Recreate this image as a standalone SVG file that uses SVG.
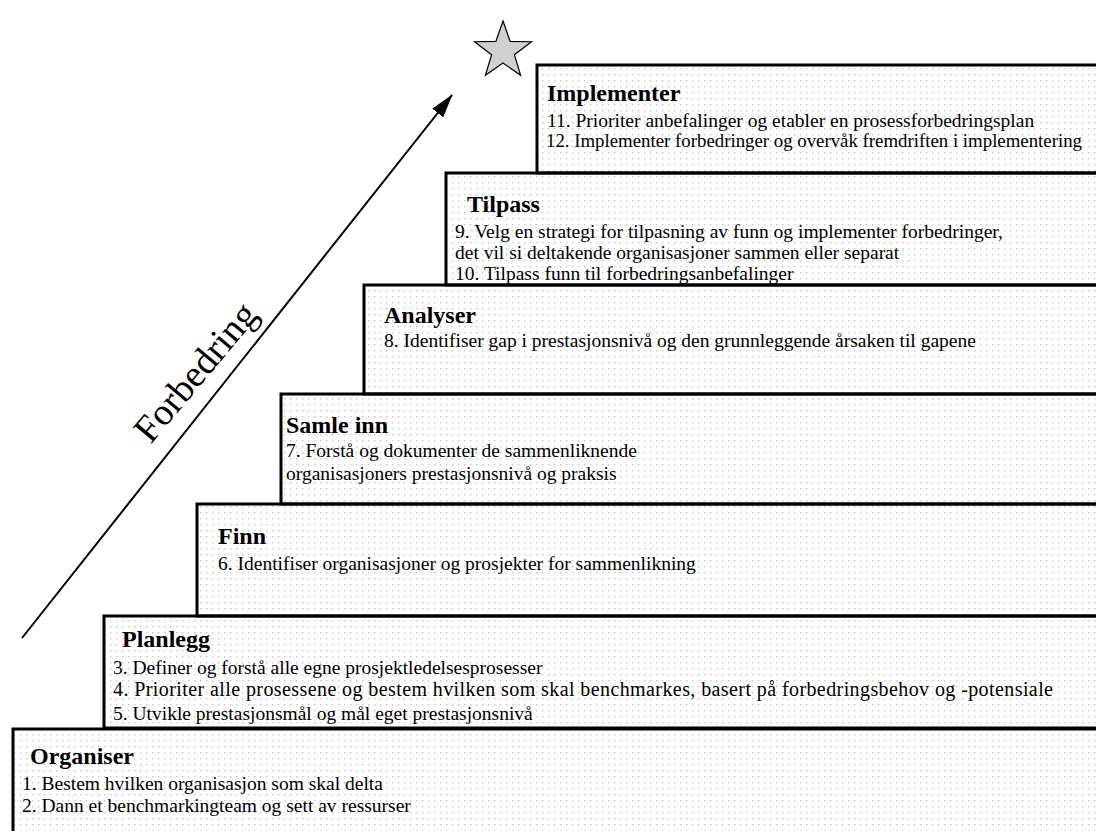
<svg xmlns="http://www.w3.org/2000/svg" width="1096" height="831" viewBox="0 0 1096 831">
  <defs>
    <pattern id="dots" width="6" height="6" patternUnits="userSpaceOnUse">
      <rect x="2" y="2" width="1.4" height="1.4" fill="#c8c8c8"/>
    </pattern>
    <marker id="head" viewBox="0 0 24 14" refX="23" refY="7" markerWidth="24" markerHeight="14" orient="auto" markerUnits="userSpaceOnUse">
      <path d="M0,0 L24,7 L0,14 Z" fill="#000"/>
    </marker>
  </defs>
  <style>
    .step { fill: url(#dots); stroke: #000; stroke-width: 3; }
    .title { font-family: "Liberation Serif", "Times New Roman", serif; font-weight: bold; font-size: 24px; fill: #000; }
    .item { font-family: "Liberation Serif", "Times New Roman", serif; font-size: 19.5px; fill: #000; }
    .wide { font-size: 20px; }
    .tight { font-size: 19px; }
    .label { font-family: "Liberation Serif", "Times New Roman", serif; font-size: 38px; fill: #000; }
  </style>
  <rect width="1096" height="831" fill="#fff"/>

  <!-- stair steps, top to bottom -->
  <g id="step-implementer">
    <rect class="step" x="537" y="65" width="600" height="108"/>
    <text class="title" x="547" y="101">Implementer</text>
    <text class="item" x="547" y="127">11. Prioriter anbefalinger og etabler en prosessforbedringsplan</text>
    <text class="item tight" x="546" y="147" textLength="536" lengthAdjust="spacingAndGlyphs">12. Implementer forbedringer og overvåk fremdriften i implementering</text>
  </g>
  <g id="step-tilpass">
    <rect class="step" x="446" y="173" width="700" height="112"/>
    <text class="title" x="467" y="212">Tilpass</text>
    <text class="item" x="455" y="238">9. Velg en strategi for tilpasning av funn og implementer forbedringer,</text>
    <text class="item" x="455" y="259">det vil si deltakende organisasjoner sammen eller separat</text>
    <text class="item" x="455" y="280">10. Tilpass funn til forbedringsanbefalinger</text>
  </g>
  <g id="step-analyser">
    <rect class="step" x="364" y="285" width="800" height="109"/>
    <text class="title" x="384" y="323">Analyser</text>
    <text class="item" x="384" y="347">8. Identifiser gap i prestasjonsnivå og den grunnleggende årsaken til gapene</text>
  </g>
  <g id="step-samle-inn">
    <rect class="step" x="281" y="394" width="900" height="110"/>
    <text class="title" x="286" y="433">Samle inn</text>
    <text class="item" x="286" y="457">7. Forstå og dokumenter de sammenliknende</text>
    <text class="item" x="286" y="480">organisasjoners prestasjonsnivå og praksis</text>
  </g>
  <g id="step-finn">
    <rect class="step" x="197" y="504" width="1000" height="112"/>
    <text class="title" x="218" y="544">Finn</text>
    <text class="item" x="218" y="570">6. Identifiser organisasjoner og prosjekter for sammenlikning</text>
  </g>
  <g id="step-planlegg">
    <rect class="step" x="104" y="616" width="1100" height="112"/>
    <text class="title" x="122" y="647">Planlegg</text>
    <text class="item" x="113" y="674">3. Definer og forstå alle egne prosjektledelsesprosesser</text>
    <text class="item wide" x="113" y="696" textLength="940">4. Prioriter alle prosessene og bestem hvilken som skal benchmarkes, basert på forbedringsbehov og -potensiale</text>
    <text class="item" x="113" y="720">5. Utvikle prestasjonsmål og mål eget prestasjonsnivå</text>
  </g>
  <g id="step-organiser">
    <rect class="step" x="13" y="729" width="1200" height="140"/>
    <text class="title" x="30" y="764">Organiser</text>
    <text class="item" x="22" y="790">1. Bestem hvilken organisasjon som skal delta</text>
    <text class="item" x="22" y="812">2. Dann et benchmarkingteam og sett av ressurser</text>
  </g>

  <!-- goal star -->
  <g id="goal-star">
    <polygon points="503,21 510.1,41.3 531.5,41.7 514.4,54.7 520.6,75.3 503,63 485.4,75.3 491.6,54.7 474.5,41.7 495.9,41.3" fill="#d0d0d0" stroke="#000" stroke-width="1.2"/>
  </g>

  <!-- improvement arrow -->
  <g id="connectors">
    <line x1="22" y1="638" x2="452" y2="95" stroke="#000" stroke-width="2" marker-end="url(#head)"/>
  </g>
  <g id="label-forbedring">
    <text class="label" x="205" y="380" text-anchor="middle" transform="rotate(-50 205 380)">Forbedring</text>
  </g>
</svg>
